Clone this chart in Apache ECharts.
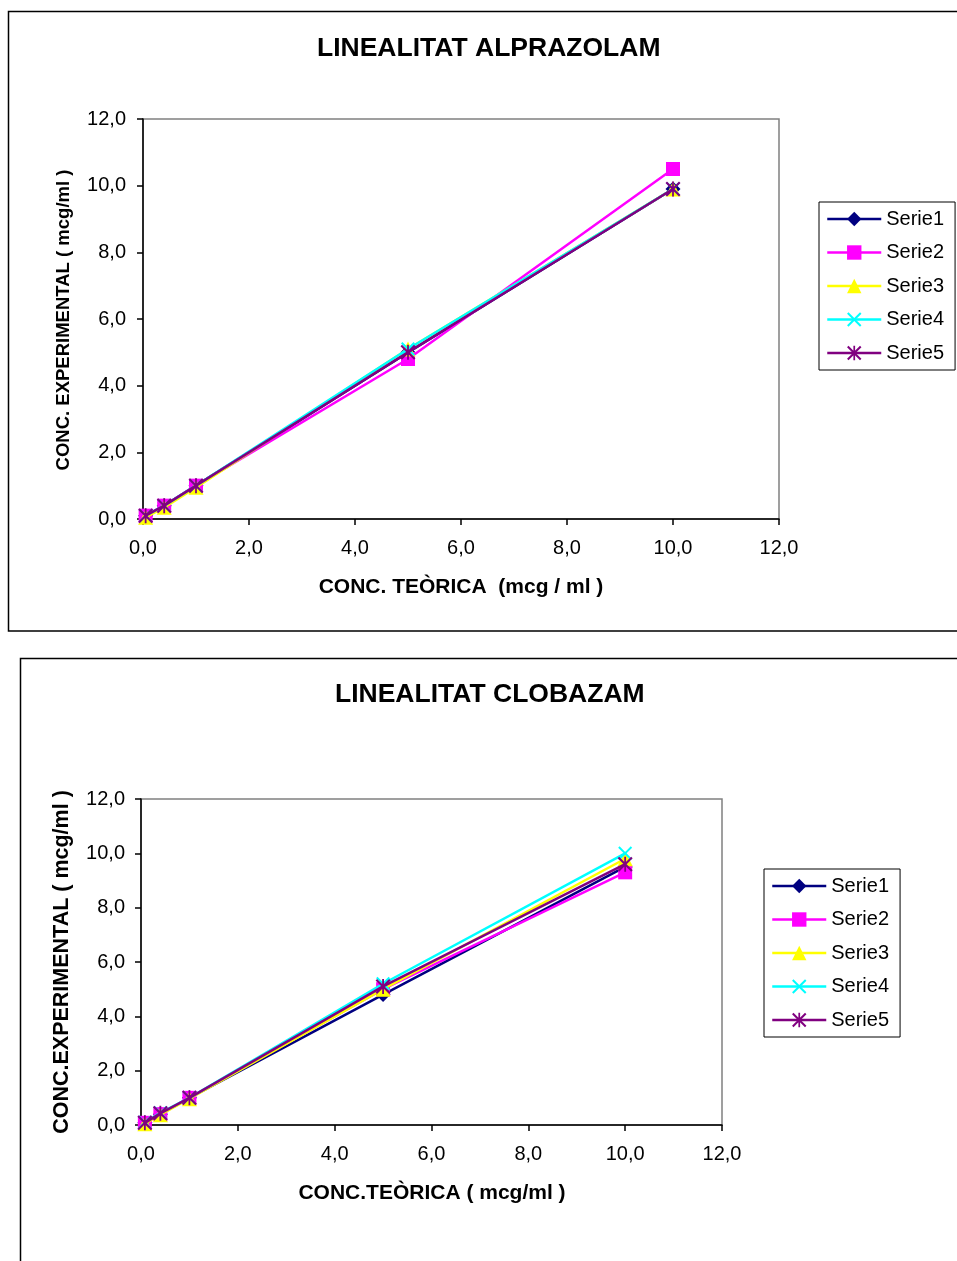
<!DOCTYPE html>
<html><head><meta charset="utf-8">
<script src="https://cdn.jsdelivr.net/npm/echarts@6/dist/echarts.min.js"></script>
<style>html,body{margin:0;padding:0;background:#fff;overflow:hidden}#c{width:957px;height:1261px}</style>
</head><body><div id="c"></div>
<script>
// ---- data ----
const seriesNames = ['Serie1', 'Serie2', 'Serie3', 'Serie4', 'Serie5'];
const yTicks = ['0,0', '2,0', '4,0', '6,0', '8,0', '10,0', '12,0'];
// Chart 1: LINEALITAT ALPRAZOLAM
const alpX = [0.05, 0.4, 1, 5, 10];
const alpS1 = [0.1, 0.4, 1.0, 5.0, 9.9];
const alpS2 = [0.1, 0.4, 1.0, 4.8, 10.5];
const alpS3 = [0.05, 0.35, 0.95, 5.1, 9.9];
const alpS4 = [0.1, 0.4, 1.0, 5.1, 9.9];
const alpS5 = [0.1, 0.4, 1.0, 5.0, 9.9];
// Chart 2: LINEALITAT CLOBAZAM
const cloX = [0.08, 0.4, 1, 5, 10];
const cloS1 = [0.08, 0.4, 1.0, 4.8, 9.5];
const cloS2 = [0.08, 0.4, 1.0, 5.0, 9.3];
const cloS3 = [0.05, 0.38, 0.97, 5.0, 9.8];
const cloS4 = [0.1, 0.45, 1.0, 5.2, 10.0];
const cloS5 = [0.08, 0.43, 1.0, 5.1, 9.6];

// ---- styles ----
const FONT = '"Liberation Sans", Arial, sans-serif';
const XPATH = 'path://M0,10 L10,0 L50,40 L90,0 L100,10 L60,50 L100,90 L90,100 L50,60 L10,100 L0,90 L40,50 Z';
const STARPATH = 'path://M0,10 L10,0 L50,40 L90,0 L100,10 L60,50 L100,90 L90,100 L50,60 L10,100 L0,90 L40,50 Z M44,0 L56,0 L56,100 L44,100 Z';
const styles = [
  {color: '#000080', symbol: 'diamond', size: 15},
  {color: '#FF00FF', symbol: 'rect', size: 14},
  {color: '#FFFF00', symbol: 'triangle', size: 15},
  {color: '#00FFFF', symbol: XPATH, size: 14},
  {color: '#800080', symbol: STARPATH, size: 15}
];
const fmt = v => v.toFixed(1).replace('.', ',');

function mkSeries(xs, ys, idx, gi) {
  const st = styles[idx];
  return {
    name: seriesNames[idx], type: 'line', xAxisIndex: gi, yAxisIndex: gi,
    data: xs.map((x, i) => [x, ys[i]]),
    symbol: st.symbol, symbolSize: st.size, showSymbol: true,
    lineStyle: {color: st.color, width: 2.5},
    itemStyle: {color: st.color, borderWidth: 0},
    animation: false, z: 2 + idx
  };
}
function mkX(gi) {
  return {
    type: 'value', gridIndex: gi, min: 0, max: 12, interval: 2,
    axisLine: {show: true, onZero: false, lineStyle: {color: '#000', width: 1.5}},
    axisTick: {show: true, length: 6, lineStyle: {color: '#000', width: 1.5}},
    axisLabel: {formatter: fmt, color: '#000', fontSize: 20, fontFamily: FONT, margin: 19},
    splitLine: {show: false}
  };
}
function mkY(gi, margin) {
  return {
    type: 'value', gridIndex: gi, min: 0, max: 12, interval: 2,
    axisLine: {show: true, onZero: false, lineStyle: {color: '#000', width: 1.5}},
    axisTick: {show: true, length: 6, lineStyle: {color: '#000', width: 1.5}},
    axisLabel: {formatter: v => yTicks[Math.round(v / 2)], color: '#000', fontSize: 20, fontFamily: FONT, margin: margin},
    splitLine: {show: false}
  };
}
function mkLegend(left, top) {
  return {
    left: left, top: top, orient: 'vertical', data: seriesNames,
    itemWidth: 54, itemHeight: 18, itemGap: 13.5,
    padding: [7, 11, 7, 7],
    borderColor: '#000', borderWidth: 1, backgroundColor: '#fff',
    lineStyle: {width: 2.5},
    textStyle: {color: '#000', fontSize: 20, fontFamily: FONT},
    selectedMode: false
  };
}
function txt(x, y, s, size, rot) {
  return {type: 'text', x: x, y: y, rotation: rot || 0, silent: true,
    style: {text: s, fill: '#000', font: 'bold ' + size + 'px ' + FONT, textAlign: 'center', textVerticalAlign: 'middle'}};
}

const series = [];
[alpS1, alpS2, alpS3, alpS4, alpS5].forEach((d, i) => series.push(mkSeries(alpX, d, i, 0)));
[cloS1, cloS2, cloS3, cloS4, cloS5].forEach((d, i) => series.push(mkSeries(cloX, d, i, 1)));

const chart = echarts.init(document.getElementById('c'));
chart.setOption({
  backgroundColor: '#fff',
  animation: false,
  title: [
    {text: 'LINEALITAT ALPRAZOLAM', left: 312, top: 30, textStyle: {fontSize: 26.5, fontWeight: 'bold', color: '#000', fontFamily: FONT}},
    {text: 'LINEALITAT CLOBAZAM', left: 330, top: 676, textStyle: {fontSize: 26.5, fontWeight: 'bold', color: '#000', fontFamily: FONT}}
  ],
  grid: [
    {left: 143, top: 119, width: 636, height: 400, show: true, borderColor: '#808080', borderWidth: 1.5, backgroundColor: 'transparent'},
    {left: 141, top: 799, width: 581, height: 326, show: true, borderColor: '#808080', borderWidth: 1.5, backgroundColor: 'transparent'}
  ],
  xAxis: [mkX(0), mkX(1)],
  yAxis: [mkY(0, 17), mkY(1, 16)],
  legend: [mkLegend(819, 202), mkLegend(764, 869)],
  graphic: [
    {type: 'rect', shape: {x: 8.5, y: 11.5, width: 1000, height: 619.5}, style: {fill: 'none', stroke: '#000', lineWidth: 1.5}, silent: true, z: -10},
    {type: 'rect', shape: {x: 20.5, y: 658.5, width: 1000, height: 700}, style: {fill: 'none', stroke: '#000', lineWidth: 1.5}, silent: true, z: -10},
    txt(461, 587, 'CONC. TEÒRICA  (mcg / ml )', 21),
    txt(64, 320, 'CONC. EXPERIMENTAL ( mcg/ml )', 18.5, Math.PI / 2),
    txt(432, 1193, 'CONC.TEÒRICA ( mcg/ml )', 21),
    txt(62, 962, 'CONC.EXPERIMENTAL ( mcg/ml )', 21.5, Math.PI / 2)
  ],
  series: series
});
</script></body></html>
